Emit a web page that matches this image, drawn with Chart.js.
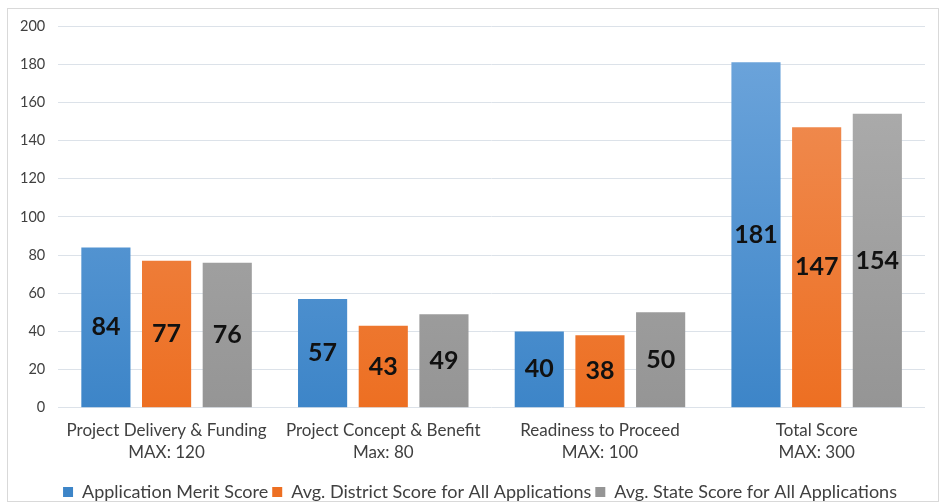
<!DOCTYPE html>
<html>
<head>
<meta charset="utf-8">
<script src="https://cdn.jsdelivr.net/npm/chart.js@4"></script>
<style>
  html, body { margin: 0; padding: 0; background: #fff; }
  #wrap { position: absolute; left: 7px; top: 8px; width: 932px; height: 494px; border: 1px solid #d9d9d9; box-sizing: border-box; }
  #holder { position: absolute; left: 0; top: 0; width: 946px; height: 504px; }
</style>
</head>
<body>
<div id="wrap"></div>
<div id="holder"><canvas id="scoreChart"></canvas></div>
<script>
// categorias e valores
const categories = [
    ["Project Delivery & Funding", "MAX: 120"],
    ["Project Concept & Benefit", "Max: 80"],
    ["Readiness to Proceed", "MAX: 100"],
    ["Total Score", "MAX: 300"]
];
const meritScores = [84, 57, 40, 181];
const districtScores = [77, 43, 38, 147];
const stateScores = [76, 49, 50, 154];
const yTicks = [0, 20, 40, 60, 80, 100, 120, 140, 160, 180, 200];

const fontFamily = "Lato, 'Open Sans', sans-serif";

// gradiente vertical para cada barra (mais claro em cima)
function gradient(top, bottom) {
    return (context) => {
        const { ctx, chartArea } = context.chart;
        if (!chartArea) return bottom;
        const g = ctx.createLinearGradient(0, chartArea.top, 0, chartArea.bottom);
        g.addColorStop(0, top);
        g.addColorStop(1, bottom);
        return g;
    };
}

// rótulos de valor no centro das barras
const barLabels = {
    id: "barLabels",
    afterDatasetsDraw(chart) {
        const ctx = chart.ctx;
        ctx.save();
        ctx.font = "bold 25px " + fontFamily;
        ctx.fillStyle = "#111";
        ctx.textAlign = "center";
        ctx.textBaseline = "middle";
        chart.data.datasets.forEach((ds, i) => {
            chart.getDatasetMeta(i).data.forEach((bar, j) => {
                const y = (bar.y + bar.base) / 2;
                ctx.fillText(ds.data[j], bar.x, y);
            });
        });
        ctx.restore();
    }
};

// desloca a legenda um pouco para a direita, como no original
const legendShift = {
    id: "legendShift",
    afterLayout(chart) {
        chart.legend.left += 14;
        chart.legend.right += 14;
    }
};

const ctx = document.getElementById("scoreChart").getContext("2d");
new Chart(ctx, {
    type: "bar",
    data: {
        labels: categories,
        datasets: [
            {
                label: "Application Merit Score",
                data: meritScores,
                backgroundColor: gradient("#6fa6dc", "#3d85c8"),
            },
            {
                label: "Avg. District Score for All Applications",
                data: districtScores,
                backgroundColor: gradient("#f0915a", "#ed6f22"),
            },
            {
                label: "Avg. State Score for All Applications",
                data: stateScores,
                backgroundColor: gradient("#b0b0b0", "#959595"),
            },
        ],
    },
    options: {
        responsive: true,
        maintainAspectRatio: false,
        animation: false,
        categoryPercentage: 0.84,
        barPercentage: 0.81,
        layout: { padding: { left: 7, right: 21, top: 26, bottom: -7 } },
        plugins: {
            legend: {
                position: "bottom",
                labels: {
                    color: "#404040",
                    boxWidth: 10,
                    boxHeight: 10,
                    padding: 4,
                    font: { family: fontFamily, size: 18 },
                },
            },
            tooltip: { enabled: false },
        },
        scales: {
            x: {
                grid: { display: false },
                border: { display: false },
                afterFit: (axis) => { axis.height += 11; },
                ticks: {
                    color: "#404040",
                    font: { family: fontFamily, size: 17, lineHeight: 1.3 },
                    padding: 4,
                },
            },
            y: {
                min: 0,
                max: 200,
                afterBuildTicks: (axis) => { axis.ticks = yTicks.map(v => ({ value: v })); },
                grid: { color: "#dce2e9", drawTicks: false },
                border: { display: false },
                ticks: {
                    color: "#404040",
                    font: { family: fontFamily, size: 14.5 },
                    padding: 13,
                },
            },
        },
    },
    plugins: [barLabels, legendShift],
});
</script>
</body>
</html>
